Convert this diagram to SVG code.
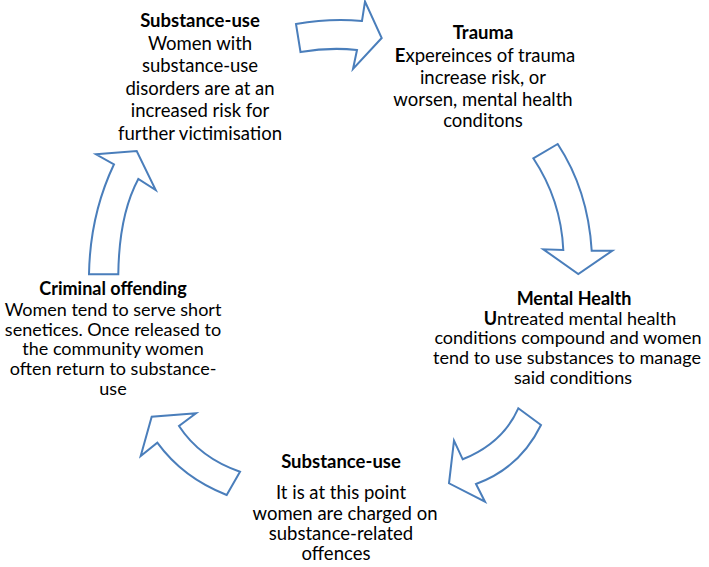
<svg xmlns="http://www.w3.org/2000/svg" width="709" height="567" viewBox="0 0 709 567">
<style>
  .t { font-family: Lato, "Liberation Sans", sans-serif; font-size: 18.5px; fill: #000; text-anchor: middle; }
  .s { font-size: 18px; }
  .b { font-weight: bold; }
  .arrow { fill: #fff; stroke: #4a7ebb; stroke-width: 2; stroke-linejoin: miter; }
</style>
<rect width="709" height="567" fill="#fff"/>
<g id="connectors">
  <path class="arrow" d="M296,24 Q330,18 362,21 L365,1.5 L381.7,38 L353,69 L357,50 Q330,47 300.5,52 Z"/>
  <path class="arrow" d="M533.3,158.3 L557.7,144 Q588,190 591.7,250.7 L612.3,250.7 L578.3,274 L543.3,249.3 L563.3,250 Q561,200 533.3,158.3 Z"/>
  <path class="arrow" d="M518.3,408.3 L541,425 Q520,468 476,484 L485,501.7 L449,483.3 L454,440.7 L462.7,459.3 Q503,443 518.3,408.3 Z"/>
  <path class="arrow" d="M240,471.7 L226.7,495 Q183,478 157.3,442.7 L140.7,456 L151.7,416.7 L196,413.3 L179,426 Q200,458 240,471.7 Z"/>
  <path class="arrow" d="M89,274.3 L118.3,274.3 Q119,215 138.3,179 L155.7,190 L136.7,151 L96,154.3 L114,164.3 Q90,215 89,274.3 Z"/>
</g>
<g id="node-substance-use-top">
  <text class="t b" x="200" y="27">Substance-use</text>
  <text class="t" x="200" y="49.5">Women with</text>
  <text class="t" x="200" y="72">substance-use</text>
  <text class="t" x="200" y="94.5">disorders are at an</text>
  <text class="t" x="200" y="117">increased risk for</text>
  <text class="t" x="200" y="139.5">further victimisation</text>
</g>
<g id="node-trauma">
  <text class="t b" x="483" y="39">Trauma</text>
  <text class="t" x="485" y="61.5"><tspan class="b">E</tspan>xpereinces of trauma</text>
  <text class="t" x="483" y="83.5">increase risk, or</text>
  <text class="t" x="483" y="105.7">worsen, mental health</text>
  <text class="t" x="483" y="127">conditons</text>
</g>
<g id="node-mental-health">
  <text class="t s b" x="574" y="305">Mental Health</text>
  <text class="t s" x="580" y="324.5"><tspan class="b">U</tspan>ntreated mental health</text>
  <text class="t s" x="568" y="344.2">conditions compound and women</text>
  <text class="t s" x="567" y="363.8">tend to use substances to manage</text>
  <text class="t s" x="573" y="383.5">said conditions</text>
</g>
<g id="node-substance-use-bottom">
  <text class="t b" x="341" y="468.3">Substance-use</text>
  <text class="t" x="341" y="499.3">It is at this point</text>
  <text class="t" x="345" y="520">women are charged on</text>
  <text class="t" x="341" y="540">substance-related</text>
  <text class="t" x="336" y="560">offences</text>
</g>
<g id="node-criminal-offending">
  <text class="t s b" x="113" y="295">Criminal offending</text>
  <text class="t s" x="113" y="316">Women tend to serve short</text>
  <text class="t s" x="113" y="335.7">senetices. Once released to</text>
  <text class="t s" x="113" y="355.4">the community women</text>
  <text class="t s" x="113" y="375.1">often return to substance-</text>
  <text class="t s" x="113" y="394.8">use</text>
</g>
</svg>
